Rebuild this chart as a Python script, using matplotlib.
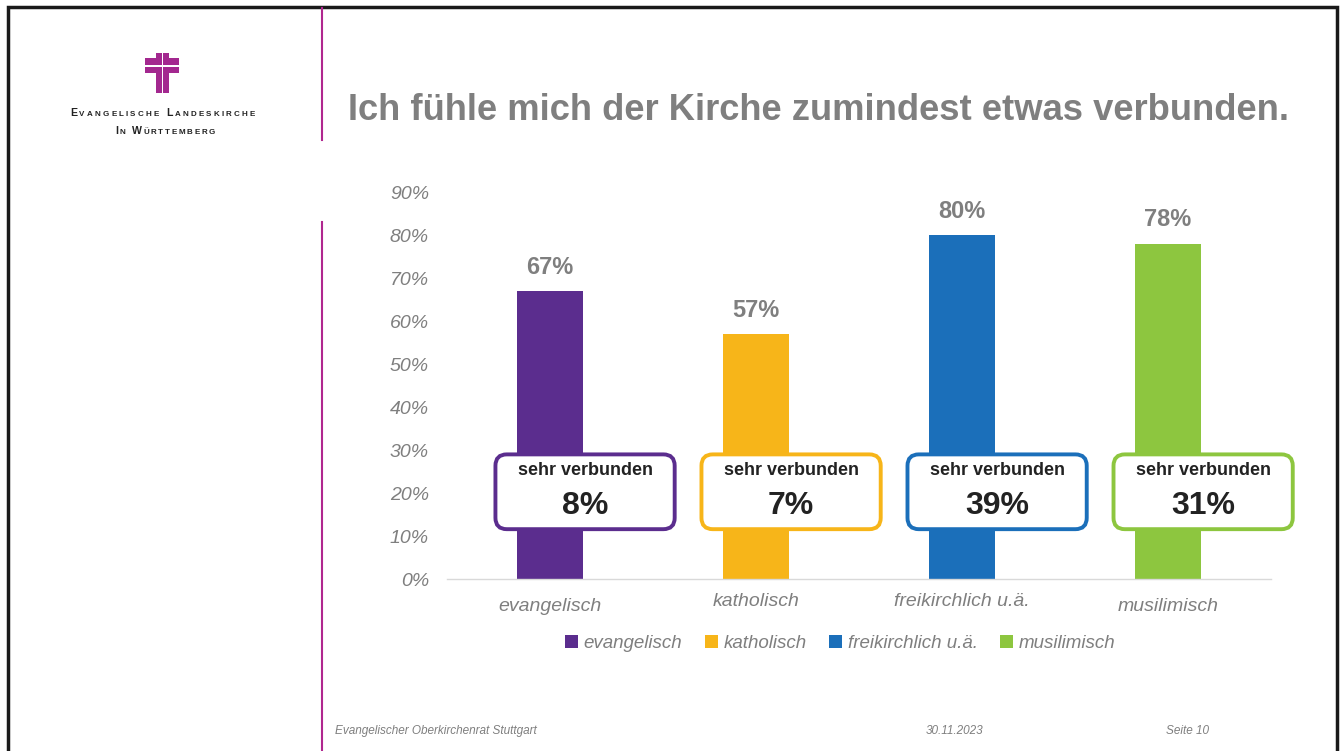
import matplotlib.pyplot as plt
from matplotlib.patches import FancyBboxPatch, Rectangle
from matplotlib.lines import Line2D
from matplotlib.transforms import ScaledTranslation

plt.rcParams['font.family'] = ['Liberation Sans', 'DejaVu Sans']

# Data
categories = ["evangelisch", "katholisch", "freikirchlich u.ä.", "musilimisch"]
verbunden = [67, 57, 80, 78]          # zumindest etwas verbunden (%)
sehr_verbunden = [8, 7, 39, 31]       # sehr verbunden (%)
colors = ["#5b2d8e", "#f7b519", "#1b6fba", "#8dc63f"]
y_ticks = [0, 10, 20, 30, 40, 50, 60, 70, 80, 90]

gray = "#7f7f7f"
W, H = 1340, 751

fig = plt.figure(figsize=(13.4, 7.51), dpi=100)
ax = fig.add_axes([0.3336, 0.229, 0.615, 0.515])

x = list(range(len(categories)))
ax.bar(x, verbunden, width=0.32, color=colors, zorder=2)

for xi, v in zip(x, verbunden):
    ax.annotate(f"{v}%", (xi, v), xytext=(0, 9), textcoords="offset points",
                ha="center", va="bottom", fontsize=17, fontweight="bold", color=gray)

# "sehr verbunden" boxes (shifted a bit right of the bars, as on the slide)
box_dx, box_w = 0.17, 0.87
aspect = (0.615 * W / 4) / (0.515 * H / 90)   # px per x unit / px per y unit
for xi, s, c in zip(x, sehr_verbunden, colors):
    cx = xi + box_dx
    box = FancyBboxPatch((cx - box_w / 2, 11.6), box_w, 17.4,
                         boxstyle="round,pad=0,rounding_size=0.055",
                         mutation_aspect=aspect,
                         facecolor="white", edgecolor=c, linewidth=2.8,
                         zorder=3, clip_on=False)
    ax.add_patch(box)
    ax.text(cx, 25.3, "sehr verbunden", ha="center", va="center", fontsize=13,
            fontweight="bold", color="#222222", zorder=4, clip_on=False)
    ax.text(cx, 17.0, f"{s}%", ha="center", va="center", fontsize=23,
            fontweight="bold", color="#222222", zorder=4, clip_on=False)

ax.set_xlim(-0.5, 3.5)
ax.set_ylim(0, 90)
ax.set_yticks(y_ticks)
ax.set_yticklabels([f"{t}%" for t in y_ticks], fontsize=14, style="italic", color=gray)
ax.tick_params(axis="y", length=0, pad=13)
ax.set_xticks(x)
ax.set_xticklabels(categories, fontsize=14, style="italic", color=gray)
ax.tick_params(axis="x", length=0, pad=10)
# uneven label heights as on the slide
for lbl, dy in zip(ax.get_xticklabels(), [5, 0, 0, 5]):
    lbl.set_transform(lbl.get_transform() + ScaledTranslation(0, -dy / 100, fig.dpi_scale_trans))
for sp in ["top", "right", "left"]:
    ax.spines[sp].set_visible(False)
ax.spines["bottom"].set_color("#d9d9d9")
ax.spines["bottom"].set_linewidth(1)

# legend
handles = [Rectangle((0, 0), 1, 1, facecolor=c) for c in colors]
leg = fig.legend(handles, categories, loc="center", bbox_to_anchor=(0.627, 0.143),
                 ncol=4, frameon=False, handlelength=0.7, handleheight=0.7,
                 handletextpad=0.3, columnspacing=1.2,
                 prop={"size": 13.5, "style": "italic"})
for t in leg.get_texts():
    t.set_color(gray)

# title
fig.text(348 / W, 1 - 110 / H, "Ich fühle mich der Kirche zumindest etwas verbunden.",
         fontsize=26.2, fontweight="bold", color=gray, ha="left", va="center")

# slide decoration: frame, magenta dividers
fig.add_artist(Rectangle((8 / W, -0.01), 1329 / W, 1 - 7 / H + 0.01,
                         transform=fig.transFigure, fill=False,
                         edgecolor="#1a1a1a", linewidth=2.5))
mag = "#b0278f"
fig.add_artist(Line2D([322 / W] * 2, [1 - 8 / H, 1 - 140 / H],
                      transform=fig.transFigure, color=mag, linewidth=1.5))
fig.add_artist(Line2D([322 / W] * 2, [1 - 222 / H, 0],
                      transform=fig.transFigure, color=mag, linewidth=1.5))

# logo cross
cross = "#a3288f"
def px_rect(x0, y0, w, h, color):
    fig.add_artist(Rectangle((x0 / W, 1 - (y0 + h) / H), w / W, h / H,
                             transform=fig.transFigure, facecolor=color,
                             edgecolor="none"))
px_rect(156, 53, 13, 40, cross)
px_rect(145, 58, 34, 15, cross)
px_rect(161.8, 53, 1.3, 40, "white")
px_rect(145, 65.3, 34, 1.3, "white")

# small-caps logo text, letter-spaced to the slide width
renderer = fig.canvas.get_renderer()
def small_caps(line, x0, x1, yc):
    pieces = []
    first = True
    for ch in line:
        if ch == " ":
            first = True
            pieces.append((ch, 5.8))
            continue
        pieces.append((ch, 7.6 if first else 5.8))
        first = False
    texts = []
    total = 0
    for ch, sz in pieces:
        t = fig.text(0, 1 - yc / H, ch if ch != " " else "", fontsize=sz,
                     fontweight="bold", color="#222222", ha="left", va="baseline")
        w = t.get_window_extent(renderer).width if ch != " " else 3
        texts.append((t, w))
        total += w
    gap = (x1 - x0 - total) / (len(pieces) - 1)
    xx = x0
    for t, w in texts:
        t.set_x(xx / W)
        xx += w + gap

small_caps("EVANGELISCHE LANDESKIRCHE", 70, 255, 115.5)
small_caps("IN WÜRTTEMBERG", 115, 215, 133.5)

# footer
fig.text(335 / W, 1 - 731 / H, "Evangelischer Oberkirchenrat Stuttgart", ha="left",
         va="center", fontsize=8.5, style="italic", color=gray)
fig.text(955 / W, 1 - 731 / H, "30.11.2023", ha="center", va="center",
         fontsize=8.5, style="italic", color=gray)
fig.text(1187 / W, 1 - 731 / H, "Seite 10", ha="center", va="center",
         fontsize=8.5, style="italic", color=gray)

fig.savefig("out.png", dpi=100)
